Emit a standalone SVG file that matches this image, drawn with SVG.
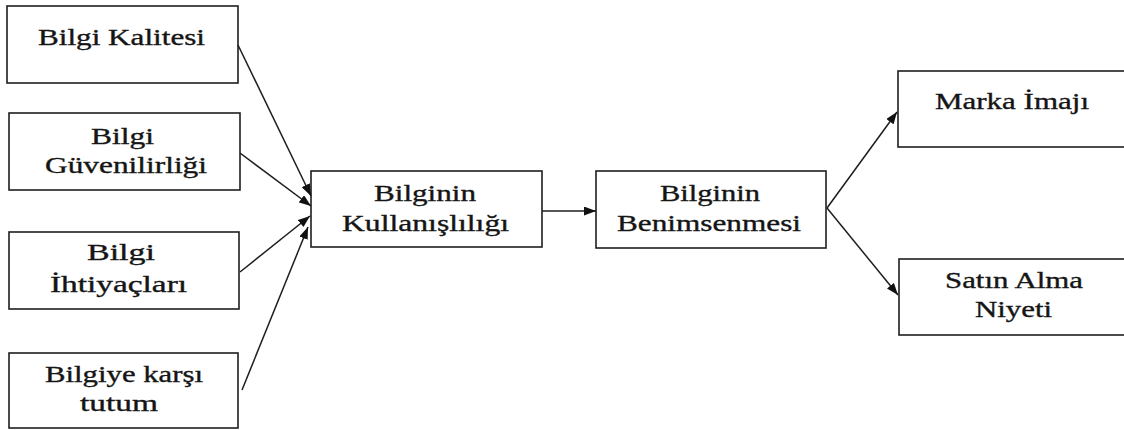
<svg xmlns="http://www.w3.org/2000/svg" width="1124" height="430" viewBox="0 0 1124 430">
  <defs>
    <style>
      .box { fill: #ffffff; stroke: #1e1e1e; stroke-width: 1.6; }
      .lbl { font-family: "Liberation Serif", "Times New Roman", serif; font-size: 23px; fill: #151515; stroke: #151515; stroke-width: 0.35; text-anchor: middle; }
      .conn line { stroke: #1e1e1e; stroke-width: 1.5; marker-end: url(#arrow); }
    </style>
    <marker id="arrow" viewBox="0 0 12 9" refX="12" refY="4.5" markerWidth="12" markerHeight="9" markerUnits="userSpaceOnUse" orient="auto">
      <path d="M0,0 L12,4.5 L0,9 z" fill="#111111"/>
    </marker>
  </defs>
  <rect width="1124" height="430" fill="#ffffff"/>

  <g id="bilgi-kalitesi">
    <rect class="box" x="7" y="6" width="231" height="77"/>
    <text class="lbl" transform="translate(121.5,45) scale(1.38,1)" textLength="121" lengthAdjust="spacingAndGlyphs">Bilgi Kalitesi</text>
  </g>

  <g id="bilgi-guvenilirligi">
    <rect class="box" x="9" y="113" width="231" height="77"/>
    <text class="lbl" transform="translate(122.5,144) scale(1.38,1)" textLength="45.7" lengthAdjust="spacingAndGlyphs">Bilgi</text>
    <text class="lbl" transform="translate(126,173) scale(1.38,1)" textLength="117.4" lengthAdjust="spacingAndGlyphs">Güvenilirliği</text>
  </g>

  <g id="bilgi-ihtiyaclari">
    <rect class="box" x="9" y="232" width="230" height="77"/>
    <text class="lbl" transform="translate(121,260) scale(1.38,1)" textLength="49.3" lengthAdjust="spacingAndGlyphs">Bilgi</text>
    <text class="lbl" transform="translate(118.5,292) scale(1.38,1)" textLength="99.3" lengthAdjust="spacingAndGlyphs">İhtiyaçları</text>
  </g>

  <g id="bilgiye-karsi-tutum">
    <rect class="box" x="9" y="353" width="229" height="75"/>
    <text class="lbl" transform="translate(124,382) scale(1.38,1)" textLength="114.5" lengthAdjust="spacingAndGlyphs">Bilgiye karşı</text>
    <text class="lbl" transform="translate(119,411) scale(1.38,1)" textLength="56.5" lengthAdjust="spacingAndGlyphs">tutum</text>
  </g>

  <g id="bilginin-kullanisliligi">
    <rect class="box" x="311" y="171" width="231" height="76"/>
    <text class="lbl" transform="translate(425,201) scale(1.38,1)" textLength="73.9" lengthAdjust="spacingAndGlyphs">Bilginin</text>
    <text class="lbl" transform="translate(425.5,231) scale(1.38,1)" textLength="121" lengthAdjust="spacingAndGlyphs">Kullanışlılığı</text>
  </g>

  <g id="bilginin-benimsenmesi">
    <rect class="box" x="596" y="171" width="230" height="77"/>
    <text class="lbl" transform="translate(710,201) scale(1.38,1)" textLength="72.5" lengthAdjust="spacingAndGlyphs">Bilginin</text>
    <text class="lbl" transform="translate(709,231) scale(1.38,1)" textLength="133.3" lengthAdjust="spacingAndGlyphs">Benimsenmesi</text>
  </g>

  <g id="marka-imaji">
    <rect class="box" x="898" y="71" width="240" height="76"/>
    <text class="lbl" transform="translate(1012,109) scale(1.38,1)" textLength="111.6" lengthAdjust="spacingAndGlyphs">Marka İmajı</text>
  </g>

  <g id="satin-alma-niyeti">
    <rect class="box" x="899" y="259" width="240" height="76"/>
    <text class="lbl" transform="translate(1014,288) scale(1.38,1)" textLength="100" lengthAdjust="spacingAndGlyphs">Satın Alma</text>
    <text class="lbl" transform="translate(1013.5,317) scale(1.38,1)" textLength="55.8" lengthAdjust="spacingAndGlyphs">Niyeti</text>
  </g>

  <g id="connectors" class="conn">
    <line x1="238" y1="45" x2="311" y2="196"/>
    <line x1="240" y1="153" x2="311" y2="206"/>
    <line x1="240" y1="272" x2="310" y2="216"/>
    <line x1="242" y1="390" x2="308" y2="227"/>
    <line x1="542" y1="211" x2="596" y2="211"/>
    <line x1="827" y1="208" x2="897" y2="112"/>
    <line x1="827" y1="208" x2="898" y2="295"/>
  </g>
</svg>
